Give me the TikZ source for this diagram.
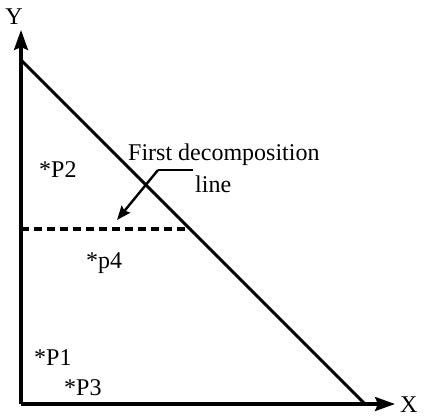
\documentclass[tikz,border=0pt]{standalone}
\usepackage{fontspec}
\setmainfont{Liberation Serif}
\usetikzlibrary{arrows.meta}
\begin{document}
\begin{tikzpicture}[x=1pt,y=-1pt,
  axis/.style={line width=3.2pt,-{Stealth[length=20pt,width=14pt,inset=3pt]}},
  edge/.style={line width=3pt},
  dline/.style={line width=3.2pt,dash pattern=on 8pt off 5pt},
  lead/.style={line width=2.4pt},
  ptr/.style={line width=2.4pt,-{Stealth[length=14pt,width=11pt,inset=2pt]}},
  lbl/.style={font=\fontsize{24}{26}\selectfont,inner sep=0pt}]
\useasboundingbox (0,0) rectangle (425,416);
\coordinate (O) at (21,404);
\coordinate (Yt) at (21,30);
\coordinate (Xt) at (395,404);
\coordinate (A) at (21,60);
\coordinate (B) at (365,404);
\coordinate (D1) at (21,229);
\coordinate (D2) at (190,229);
\coordinate (K) at (158,170);
\coordinate (Kr) at (193,170);
\coordinate (T) at (117,220);
\draw[axis] (O) -- (Yt);
\draw[axis] (O) -- (Xt);
\draw[edge] (A) -- (B);
\draw[dline] (D1) -- (D2);
\node[lbl,anchor=base] (ylab) at (14,24) {Y};
\node[lbl,anchor=base west] (xlab) at (400,412) {X};
\node[lbl,anchor=base west] (first) at (128,160) {First decomposition};
\node[lbl,anchor=base west] (line) at (195,192) {line};
\draw[lead] (Kr) -- (K);
\draw[ptr] (K) -- (T);
\node[lbl,anchor=base west] (p2) at (39,177) {*P2};
\node[lbl,anchor=base west] (p4) at (86,268) {*p4};
\node[lbl,anchor=base west] (p1) at (34,365) {*P1};
\node[lbl,anchor=base west] (p3) at (64,395) {*P3};
\end{tikzpicture}
\end{document}
